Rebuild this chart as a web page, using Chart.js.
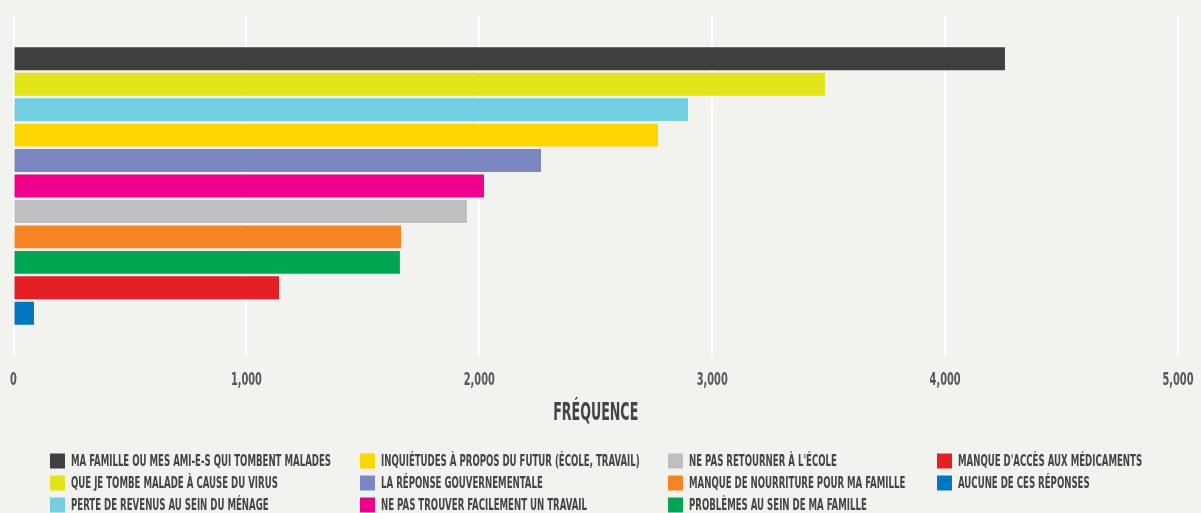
<!DOCTYPE html>
<html>
<head>
<meta charset="utf-8">
<script src="https://cdn.jsdelivr.net/npm/chart.js@4/dist/chart.umd.min.js"></script>
<style>
  body { margin: 0; background: #f2f2ee; }
  #wrap { width: 1201px; height: 513px; }
</style>
</head>
<body>
<div id="wrap"><canvas id="chart"></canvas></div>
<script>
// one group, one dataset per answer (top to bottom)
const labels = [
  'MA FAMILLE OU MES AMI-E-S QUI TOMBENT MALADES',
  'QUE JE TOMBE MALADE À CAUSE DU VIRUS',
  'PERTE DE REVENUS AU SEIN DU MÉNAGE',
  'INQUIÉTUDES À PROPOS DU FUTUR (ÉCOLE, TRAVAIL)',
  'LA RÉPONSE GOUVERNEMENTALE',
  'NE PAS TROUVER FACILEMENT UN TRAVAIL',
  'NE PAS RETOURNER À L\'ÉCOLE',
  'MANQUE DE NOURRITURE POUR MA FAMILLE',
  'PROBLÈMES AU SEIN DE MA FAMILLE',
  'MANQUE D\'ACCÈS AUX MÉDICAMENTS',
  'AUCUNE DE CES RÉPONSES'
];
const values = [4257, 3484, 2896, 2767, 2265, 2020, 1947, 1664, 1659, 1140, 88];
const colors = ['#404040', '#e3e31a', '#72cfe0', '#fdd500', '#7a87c3', '#ec008c',
                '#bdbec0', '#f58524', '#00a651', '#e41f26', '#0077c0'];
const xTicks = [0, 1000, 2000, 3000, 4000, 5000];
const axisTitle = 'FRÉQUENCE';

const FONT = '"Liberation Sans Narrow", "DejaVu Sans Condensed", sans-serif';

// condensed text: squeeze horizontally so it looks like the narrow display face
function squeezed(ctx, text, x, y, font, sx, align) {
  ctx.save();
  ctx.font = font;
  ctx.translate(x, y);
  ctx.scale(sx, 1);
  ctx.textAlign = align;
  ctx.textBaseline = 'middle';
  ctx.fillText(text, 0, 0);
  ctx.restore();
}

const textPlugin = {
  id: 'narrowText',
  afterDraw(chart) {
    const ctx = chart.ctx;
    const xs = chart.scales.x;

    // tick labels
    const tickFont = 'bold 18px ' + FONT;
    ctx.font = tickFont;
    const tsx = 31 / ctx.measureText('1,000').width;
    ctx.fillStyle = '#555';
    xs.ticks.forEach(t => {
      squeezed(ctx, t.value.toLocaleString('en-US'), xs.getPixelForValue(t.value), 380, tickFont, tsx, 'center');
    });

    // axis title
    const titleFont = 'bold 25px ' + FONT;
    ctx.font = titleFont;
    const asx = 85 / ctx.measureText(axisTitle).width;
    ctx.fillStyle = '#444';
    squeezed(ctx, axisTitle, (chart.chartArea.left + chart.chartArea.right) / 2, 413, titleFont, asx, 'center');

    // legend in 4 fixed columns, filled column by column
    const colX = [50, 360, 668, 937];
    const rowY = [461, 483, 505];
    const legFont = 'bold 15px ' + FONT;
    ctx.font = legFont;
    const lsx = 260 / ctx.measureText(labels[0]).width;
    chart.data.datasets.forEach((ds, i) => {
      const x = colX[Math.floor(i / 3)];
      const y = rowY[i % 3];
      ctx.fillStyle = ds.backgroundColor;
      ctx.fillRect(x, y - 7.5, 15, 15);
      ctx.fillStyle = '#444';
      squeezed(ctx, ds.label, x + 21, y + 1, legFont, lsx, 'left');
    });
  }
};

new Chart(document.getElementById('chart'), {
  type: 'bar',
  data: {
    labels: [''],
    datasets: labels.map((l, i) => ({
      label: l,
      data: [values[i]],
      backgroundColor: colors[i],
      categoryPercentage: 0.8235,
      barPercentage: 0.9
    }))
  },
  options: {
    indexAxis: 'y',
    responsive: true,
    maintainAspectRatio: false,
    animation: false,
    layout: { padding: { left: 13.5, right: 23, top: 16, bottom: 77.2 } },
    plugins: { legend: { display: false }, tooltip: { enabled: false } },
    scales: {
      x: {
        min: 0,
        max: 5000,
        afterBuildTicks: (axis) => { axis.ticks = xTicks.map(v => ({ value: v })); },
        afterFit: (axis) => { axis.paddingLeft = 0; axis.paddingRight = 0; },
        grid: { color: '#ffffff', lineWidth: 2, drawTicks: false },
        border: { display: false },
        ticks: { padding: 13, color: 'rgba(0,0,0,0)', font: { family: FONT, size: 16, weight: 'bold' } },
        title: {
          display: true,
          text: axisTitle,
          color: 'rgba(0,0,0,0)',
          padding: { top: 13, bottom: 0 },
          font: { family: FONT, size: 18, weight: 'bold' }
        }
      },
      y: {
        display: false
      }
    }
  },
  plugins: [textPlugin]
});
</script>
</body>
</html>
